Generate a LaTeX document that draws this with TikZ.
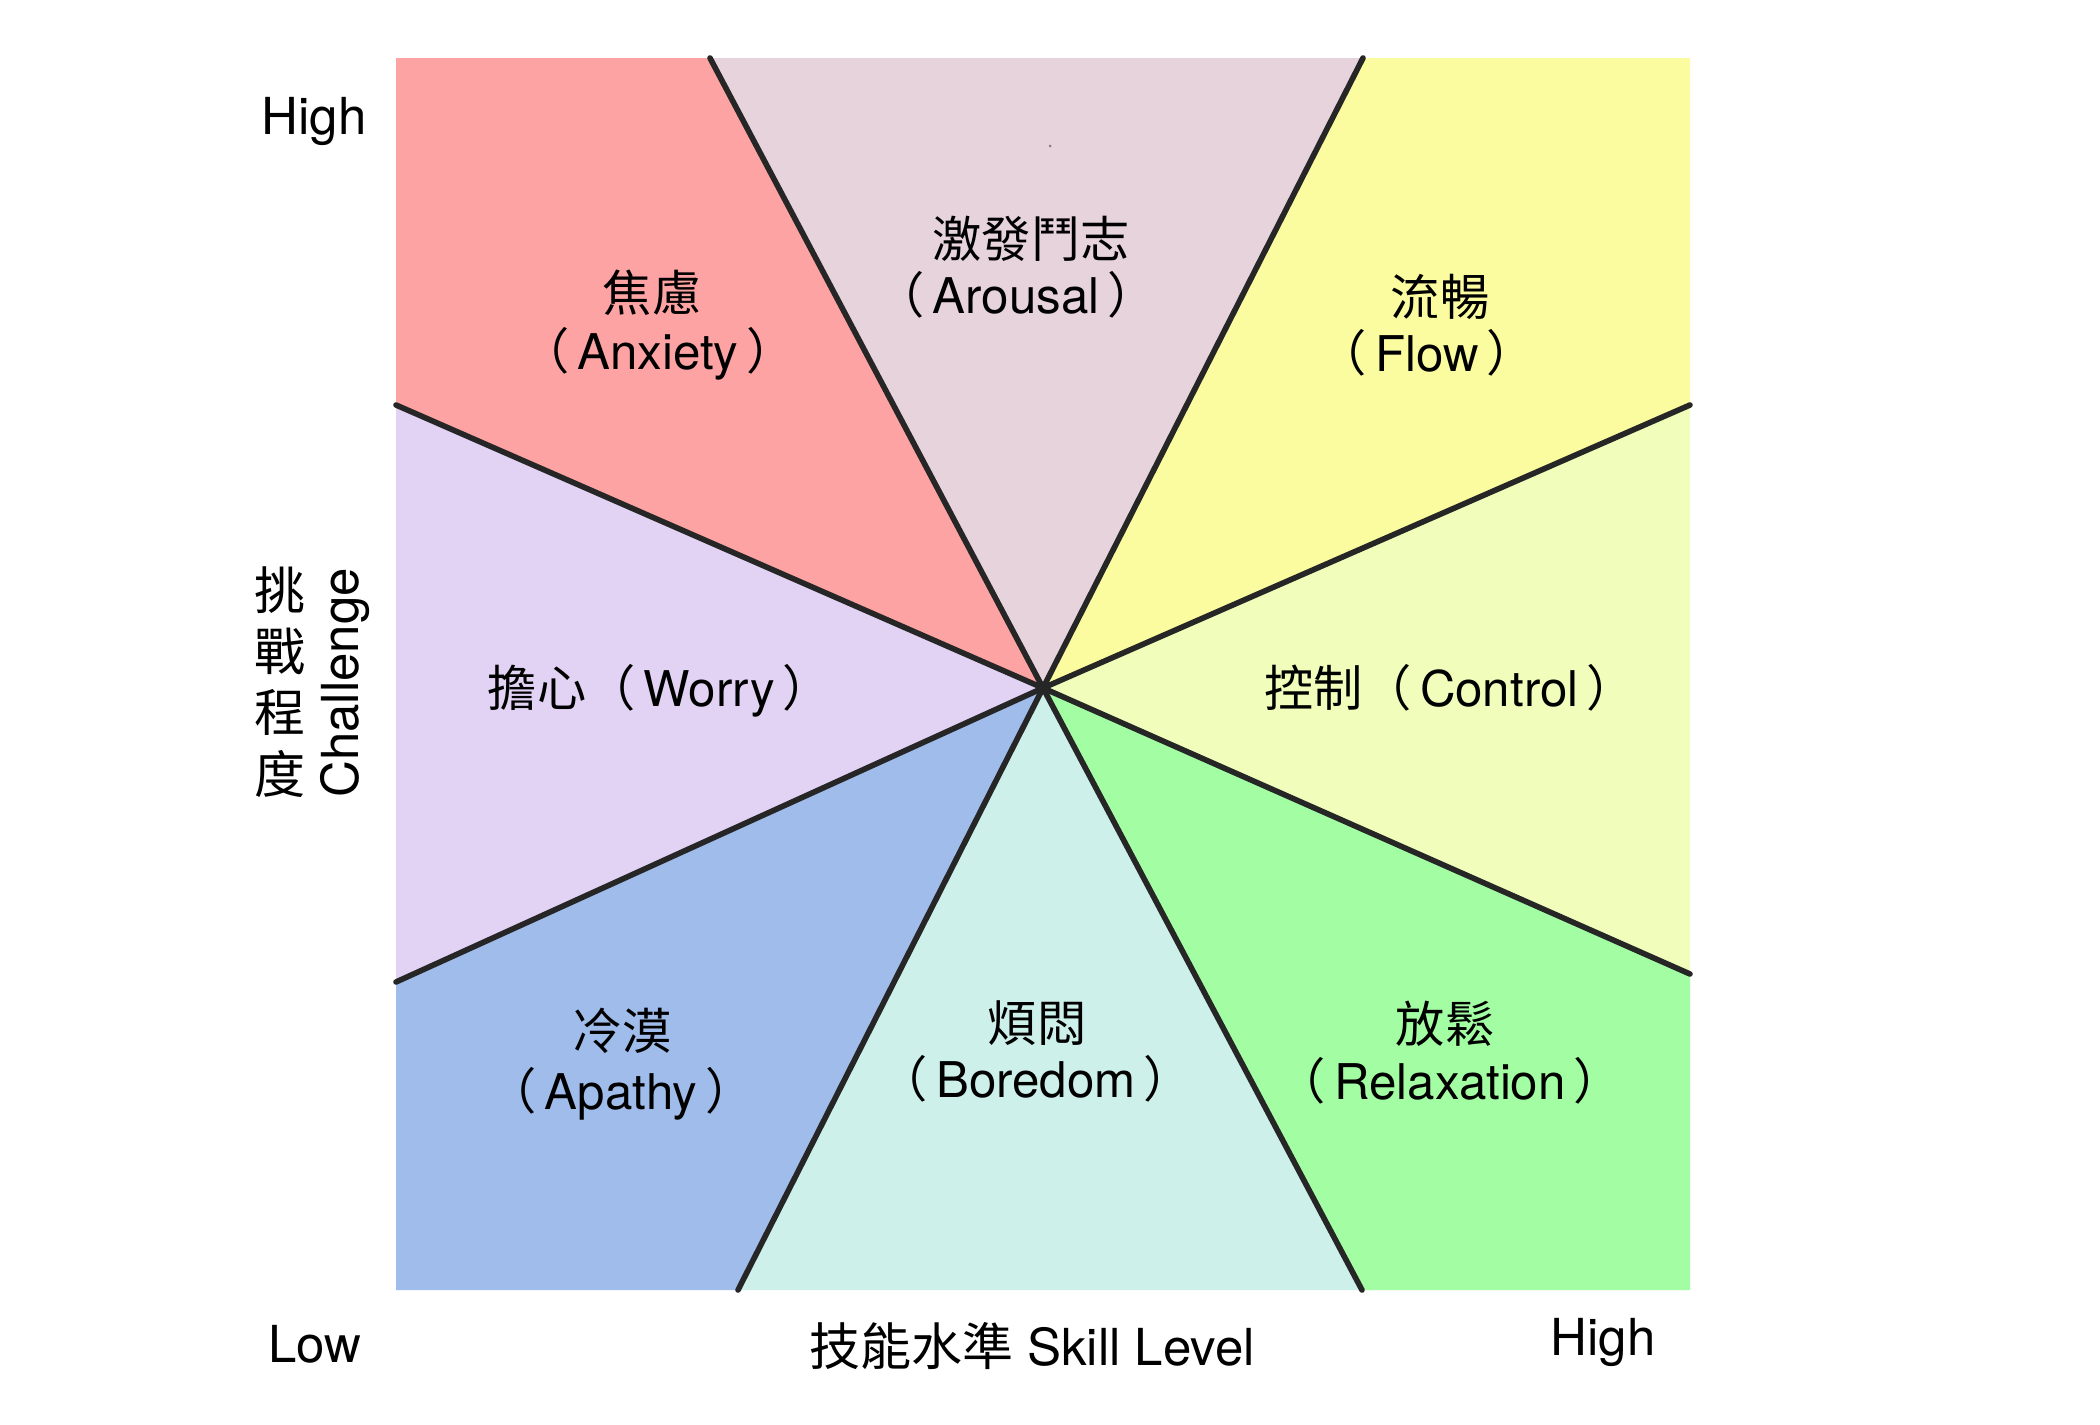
\documentclass[tikz,border=0pt]{standalone}
\usepackage{fontspec}
\setmainfont{TeX Gyre Heros}
\newfontfamily\cjk{Noto Sans CJK TC}
\newcommand\lpar{{\cjk （}\,}
\newcommand\rpar{\,{\cjk ）}}
\definecolor{cAnx}{HTML}{FDA3A3}
\definecolor{cAro}{HTML}{E6D3DC}
\definecolor{cFlo}{HTML}{FBFBA0}
\definecolor{cCon}{HTML}{F1FDBB}
\definecolor{cRel}{HTML}{A3FDA3}
\definecolor{cBor}{HTML}{CDF0EA}
\definecolor{cApa}{HTML}{A0BCEB}
\definecolor{cWor}{HTML}{E2D3F5}
\definecolor{cLine}{HTML}{262626}
\tikzset{
  divider/.style={draw=cLine, line width=1.6pt, line cap=round},
  lbl/.style={inner sep=0pt, font=\fontsize{14}{16}\selectfont, text height=0.88em, text depth=0.12em, anchor=center},
  axislbl/.style={inner sep=0pt, font=\fontsize{14.5}{17}\selectfont, anchor=base},
}
\begin{document}
\begin{tikzpicture}[x=0.01cm, y=-0.01cm]
\useasboundingbox (0,0) rectangle (2100,1424);
\fill[white] (0,0) rectangle (2100,1424);
% corners and boundary points
\coordinate (C) at (1043,688);
\coordinate (TL) at (396,58);
\coordinate (TR) at (1690,58);
\coordinate (BR) at (1690,1290);
\coordinate (BL) at (396,1290);
\coordinate (A1) at (710,58);
\coordinate (A2) at (1363,58);
\coordinate (R1) at (1690,405);
\coordinate (R2) at (1690,974);
\coordinate (B2) at (1362,1290);
\coordinate (B1) at (738,1290);
\coordinate (L2) at (396,982);
\coordinate (L1) at (396,405);
% sectors
\fill[cAnx] (C) -- (L1) -- (TL) -- (A1) -- cycle;
\fill[cAro] (C) -- (A1) -- (A2) -- cycle;
\fill[cFlo] (C) -- (A2) -- (TR) -- (R1) -- cycle;
\fill[cCon] (C) -- (R1) -- (R2) -- cycle;
\fill[cRel] (C) -- (R2) -- (BR) -- (B2) -- cycle;
\fill[cBor] (C) -- (B2) -- (B1) -- cycle;
\fill[cApa] (C) -- (B1) -- (BL) -- (L2) -- cycle;
\fill[cWor] (C) -- (L2) -- (L1) -- cycle;
% dividers
\draw[divider] (C) -- (A1);
\draw[divider] (C) -- (A2);
\draw[divider] (C) -- (R1);
\draw[divider] (C) -- (R2);
\draw[divider] (C) -- (B2);
\draw[divider] (C) -- (B1);
\draw[divider] (C) -- (L2);
\draw[divider] (C) -- (L1);
% stray dot
\fill[gray] (1050,146) circle[radius=1.5];
% sector labels
\node[lbl] (anx1) at (652,298) {\cjk 焦慮};
\node[lbl] (anx2) at (658,356) {\lpar Anxiety\rpar};
\node[lbl] (aro1) at (1031,244) {\cjk 激發鬥志};
\node[lbl] (aro2) at (1016,300) {\lpar Arousal\rpar};
\node[lbl] (flo1) at (1440,302) {\cjk 流暢};
\node[lbl] (flo2) at (1427,358) {\lpar Flow\rpar};
\node[lbl] (wor) at (660,693) {{\cjk 擔心}\lpar Worry\rpar};
\node[lbl] (con) at (1450,693) {{\cjk 控制}\lpar Control\rpar};
\node[lbl] (apa1) at (622,1036) {\cjk 冷漠};
\node[lbl] (apa2) at (621,1096) {\lpar Apathy\rpar};
\node[lbl] (bor1) at (1037,1028) {\cjk 煩悶};
\node[lbl] (bor2) at (1036,1084) {\lpar Boredom\rpar};
\node[lbl] (rel1) at (1445,1029) {\cjk 放鬆};
\node[lbl] (rel2) at (1450,1086) {\lpar Relaxation\rpar};
% axis labels
\node[axislbl] (hiL) at (314,134) {High};
\node[axislbl] (low) at (315,1362) {Low};
\node[axislbl] (hiR) at (1603,1355) {High};
\node[axislbl] (skill) at (1032,1365) {{\cjk 技能水準} Skill Level};
\node[axislbl, rotate=90] (chal) at (358,683) {Challenge};
\node[inner sep=0pt, align=center, font=\cjk\fontsize{14.5}{17.4}\selectfont] (chalzh) at (280,682) {挑\\戰\\程\\度};
\end{tikzpicture}
\end{document}
